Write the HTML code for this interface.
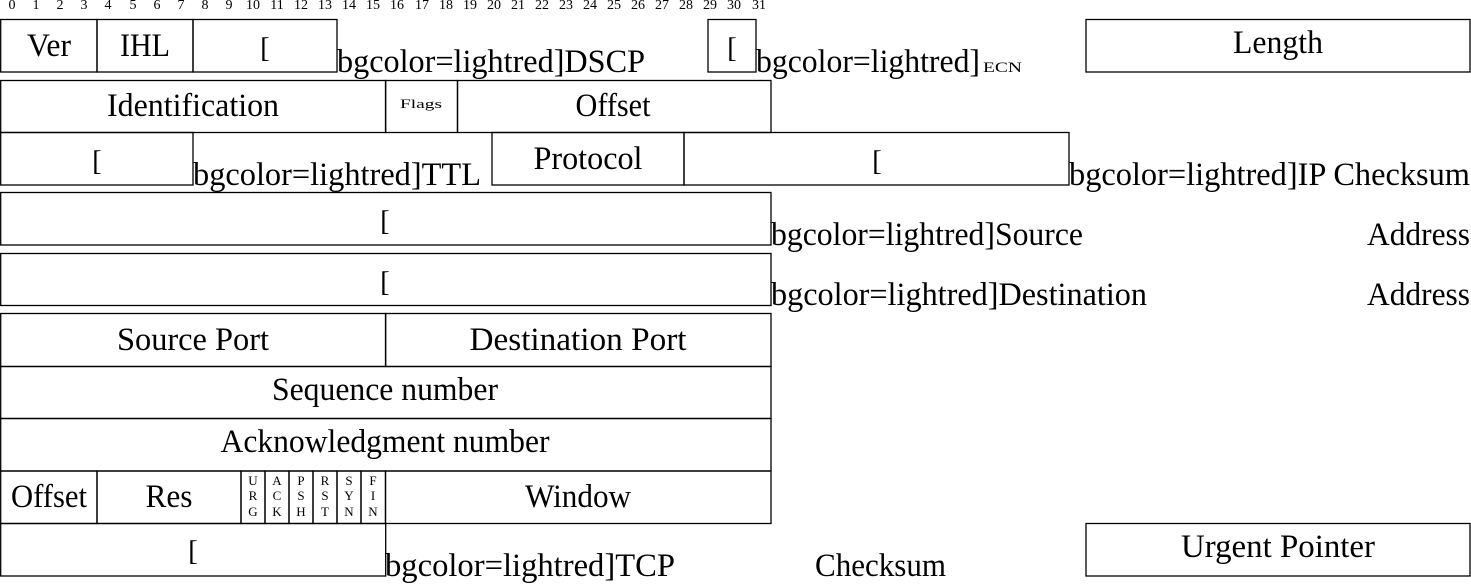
<!DOCTYPE html>
<html><head><meta charset="utf-8"><style>
html,body{margin:0;padding:0;background:#fff;}
svg{display:block;}
text{font-family:"Liberation Serif",serif;fill:#000;}
.b{font-size:33px;}
.n{font-size:14px;}
.s{font-size:13px;}
rect,line{stroke:#000;stroke-width:1.3;fill:none;}
</style></head><body>
<svg width="1471" height="584" viewBox="0 0 1471 584" xmlns="http://www.w3.org/2000/svg">
<g class="n" text-anchor="middle">
<text x="12" y="9">0</text><text x="36" y="9">1</text><text x="60" y="9">2</text><text x="84" y="9">3</text><text x="108" y="9">4</text><text x="133" y="9">5</text><text x="157" y="9">6</text><text x="181" y="9">7</text><text x="205" y="9">8</text><text x="229" y="9">9</text><text x="253" y="9">10</text><text x="277" y="9">11</text><text x="301" y="9">12</text><text x="325" y="9">13</text><text x="349" y="9">14</text><text x="373" y="9">15</text><text x="397" y="9">16</text><text x="422" y="9">17</text><text x="446" y="9">18</text><text x="470" y="9">19</text><text x="494" y="9">20</text><text x="518" y="9">21</text><text x="542" y="9">22</text><text x="566" y="9">23</text><text x="590" y="9">24</text><text x="614" y="9">25</text><text x="638" y="9">26</text><text x="662" y="9">27</text><text x="686" y="9">28</text><text x="710" y="9">29</text><text x="734" y="9">30</text><text x="759" y="9">31</text>
</g>
<g lengthAdjust="spacingAndGlyphs">
<rect x="0.7" y="19.5" width="96.3" height="52.5"/><rect x="97" y="19.5" width="96" height="52.5"/><rect x="193" y="19.5" width="144" height="52.5"/>
<rect x="708" y="19.5" width="48" height="52.5"/><rect x="1086" y="19.5" width="384" height="52.5"/>
<g class="b" text-anchor="middle">
<text x="49" y="56" textLength="44" lengthAdjust="spacingAndGlyphs">Ver</text><text x="145" y="56" textLength="50" lengthAdjust="spacingAndGlyphs">IHL</text>
<text x="265" y="57" font-size="29">[</text><text x="732" y="57" font-size="29">[</text>
<text x="1278" y="53" textLength="90" lengthAdjust="spacingAndGlyphs">Length</text>
</g>
<text class="b" x="337" y="72" textLength="308" lengthAdjust="spacingAndGlyphs">bgcolor=lightred]DSCP</text>
<text class="b" x="756" y="72" textLength="224" lengthAdjust="spacingAndGlyphs">bgcolor=lightred]</text>
<text x="983" y="72" font-size="15" textLength="39" lengthAdjust="spacingAndGlyphs">ECN</text>
<rect x="0.7" y="80.5" width="385" height="52"/><rect x="385.5" y="80.5" width="72" height="52"/><rect x="457.5" y="80.5" width="313.5" height="52"/>
<text class="b" x="193" y="116" text-anchor="middle" textLength="172" lengthAdjust="spacingAndGlyphs">Identification</text>
<text x="421" y="108" font-size="13" text-anchor="middle" textLength="42" lengthAdjust="spacingAndGlyphs">Flags</text>
<text class="b" x="613" y="116" text-anchor="middle" textLength="75" lengthAdjust="spacingAndGlyphs">Offset</text>
<rect x="0.7" y="132.5" width="192.3" height="52.5"/><rect x="492" y="132.5" width="192" height="52.5"/><rect x="684" y="132.5" width="385" height="52.5"/>
<text x="97" y="170" font-size="29" text-anchor="middle">[</text>
<text x="877" y="170" font-size="29" text-anchor="middle">[</text>
<text class="b" x="588" y="169" text-anchor="middle" textLength="109" lengthAdjust="spacingAndGlyphs">Protocol</text>
<text class="b" x="193" y="185" textLength="288" lengthAdjust="spacingAndGlyphs">bgcolor=lightred]TTL</text>
<text class="b" x="1069" y="185" textLength="401" lengthAdjust="spacingAndGlyphs">bgcolor=lightred]IP Checksum</text>
<rect x="0.7" y="192.5" width="770.3" height="52.5"/><rect x="0.7" y="253.5" width="770.3" height="52"/>
<text x="385" y="230" font-size="29" text-anchor="middle">[</text>
<text x="385" y="291" font-size="29" text-anchor="middle">[</text>
<text class="b" x="771" y="245" textLength="312" lengthAdjust="spacingAndGlyphs">bgcolor=lightred]Source</text>
<text class="b" x="1367" y="245" textLength="103" lengthAdjust="spacingAndGlyphs">Address</text>
<text class="b" x="771" y="305" textLength="376" lengthAdjust="spacingAndGlyphs">bgcolor=lightred]Destination</text>
<text class="b" x="1367" y="305" textLength="103" lengthAdjust="spacingAndGlyphs">Address</text>
<rect x="0.7" y="313.5" width="385" height="53"/><rect x="385.5" y="313.5" width="385.5" height="53"/>
<rect x="0.7" y="366.5" width="770.3" height="52"/><rect x="0.7" y="418.5" width="770.3" height="52.5"/>
<rect x="0.7" y="471" width="96.3" height="52.5"/><rect x="97" y="471" width="144" height="52.5"/>
<rect x="241" y="471" width="24" height="52.5"/><rect x="265" y="471" width="24" height="52.5"/><rect x="289" y="471" width="24" height="52.5"/><rect x="313" y="471" width="24" height="52.5"/><rect x="337" y="471" width="24" height="52.5"/><rect x="361" y="471" width="24.5" height="52.5"/>
<rect x="385.5" y="471" width="385.5" height="52.5"/>
<rect x="0.7" y="523.5" width="385" height="52.5"/><rect x="1086" y="523.5" width="384" height="52.5"/>
<g class="b" text-anchor="middle">
<text x="193" y="350" textLength="152" lengthAdjust="spacingAndGlyphs">Source Port</text><text x="578" y="350" textLength="217" lengthAdjust="spacingAndGlyphs">Destination Port</text>
<text x="385" y="400" textLength="226" lengthAdjust="spacingAndGlyphs">Sequence number</text>
<text x="385" y="452" textLength="329" lengthAdjust="spacingAndGlyphs">Acknowledgment number</text>
<text x="49" y="507" textLength="76" lengthAdjust="spacingAndGlyphs">Offset</text><text x="169" y="507" textLength="47" lengthAdjust="spacingAndGlyphs">Res</text>
<text x="578" y="507" textLength="106" lengthAdjust="spacingAndGlyphs">Window</text>
<text x="193" y="560" font-size="29">[</text>
<text x="1278" y="557" textLength="194" lengthAdjust="spacingAndGlyphs">Urgent Pointer</text>
</g>
<g class="s" text-anchor="middle">
<text x="253" y="485">U</text><text x="253" y="500">R</text><text x="253" y="516">G</text>
<text x="277" y="485">A</text><text x="277" y="500">C</text><text x="277" y="516">K</text>
<text x="301" y="485">P</text><text x="301" y="500">S</text><text x="301" y="516">H</text>
<text x="325" y="485">R</text><text x="325" y="500">S</text><text x="325" y="516">T</text>
<text x="349" y="485">S</text><text x="349" y="500">Y</text><text x="349" y="516">N</text>
<text x="373" y="485">F</text><text x="373" y="500">I</text><text x="373" y="516">N</text>
</g>
<text class="b" x="385" y="576" textLength="290" lengthAdjust="spacingAndGlyphs">bgcolor=lightred]TCP</text>
<text class="b" x="815" y="576" textLength="131" lengthAdjust="spacingAndGlyphs">Checksum</text>
</g>
</svg>
</body></html>
